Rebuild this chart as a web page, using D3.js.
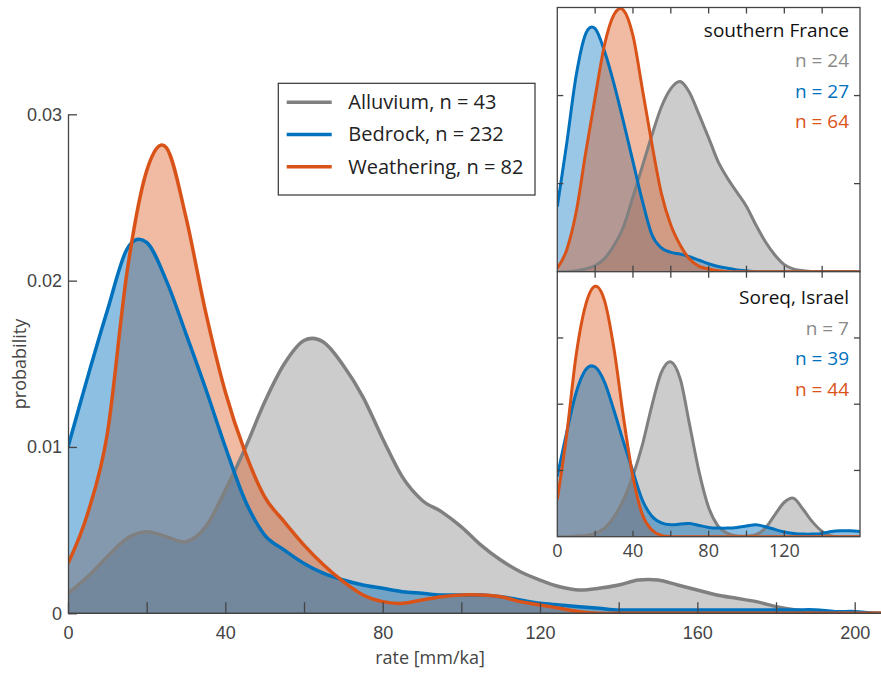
<!DOCTYPE html>
<html>
<head>
<meta charset="utf-8">
<script src="https://cdn.jsdelivr.net/npm/d3@7"></script>
<style>
  body { margin: 0; background: #fff; }
  svg { display: block; font-family: 'Open Sans', sans-serif; }
  .tick text { fill: #444; font-size: 18px; }
  .tick line, .axis .domain { stroke: #444; stroke-width: 1.3; }
</style>
</head>
<body>
<div id="chart"></div>
<script>
'use strict';

// Main panel: rate [mm/ka] against probability
var mainRates = [0, 5, 10, 15, 20, 25, 30, 35, 40, 45, 50, 55, 60, 65, 70, 75, 80, 85, 90, 95, 100,
  105, 110, 115, 120, 125, 130, 135, 140, 145, 150, 155, 160, 165, 170, 175, 180, 185, 190, 195, 200, 205, 210];
var alluvium = [0.0012, 0.0022, 0.0034, 0.0045, 0.0049, 0.0046, 0.0043, 0.0052, 0.0074, 0.0099, 0.0127,
  0.0150, 0.0164, 0.0163, 0.0149, 0.0130, 0.0105, 0.0082, 0.0068, 0.0061, 0.0052, 0.0041, 0.0032, 0.0025,
  0.0020, 0.0016, 0.0014, 0.0015, 0.0017, 0.0020, 0.0020, 0.0017, 0.0014, 0.0011, 0.0009, 0.0007, 0.0004,
  0.0002, 0.0001, 0.00003, 0, 0, 0];
var bedrock = [0.0100, 0.0142, 0.0182, 0.0219, 0.0223, 0.0200, 0.0168, 0.0135, 0.0100, 0.0068, 0.0047,
  0.0038, 0.0030, 0.0024, 0.0020, 0.0017, 0.0015, 0.0013, 0.0012, 0.0011, 0.0011, 0.0011, 0.0010, 0.0008,
  0.0006, 0.0005, 0.0004, 0.0003, 0.0002, 0.0002, 0.0002, 0.0002, 0.0002, 0.0002, 0.0002, 0.0002, 0.0002,
  0.0002, 0.0002, 0.0001, 0.0001, 0, 0];
var weathering = [0.0030, 0.0060, 0.0108, 0.0205, 0.0266, 0.0280, 0.0238, 0.0181, 0.0133, 0.0097, 0.0070,
  0.0055, 0.0041, 0.0029, 0.0019, 0.0011, 0.0007, 0.0006, 0.0008, 0.0010, 0.0011, 0.0011, 0.0010, 0.0007,
  0.0005, 0.0003, 0.0001, 0, 0, 0, 0, 0, 0, 0, 0, 0, 0, 0, 0, 0, 0, 0, 0];
var legendLabels = ['Alluvium, n = 43', 'Bedrock, n = 232', 'Weathering, n = 82'];
var mainXTicks = [0, 20, 40, 60, 80, 100, 120, 140, 160, 180, 200];
var mainYTicks = [0, 0.01, 0.02, 0.03];

// Insets
var insetRates = [0, 5, 10, 15, 20, 25, 30, 35, 40, 45, 50, 55, 60, 65, 70, 75, 80, 85, 90, 95, 100,
  105, 110, 115, 120, 125, 130, 135, 140, 145, 150, 155, 160];
var franceAlluvium = [0, 0, 0.0001, 0.0003, 0.0007, 0.0015, 0.0030, 0.0051, 0.0085, 0.0120, 0.0155, 0.0187,
  0.0208, 0.0216, 0.0203, 0.0178, 0.0152, 0.0125, 0.0106, 0.0090, 0.0074, 0.0053, 0.0034, 0.0019, 0.0008,
  0.0003, 0.0001, 0, 0, 0, 0, 0, 0];
var franceBedrock = [0.0074, 0.0146, 0.0223, 0.0270, 0.0276, 0.0250, 0.0213, 0.0170, 0.0125, 0.0080, 0.0042,
  0.0027, 0.0022, 0.0020, 0.0017, 0.0013, 0.0009, 0.0006, 0.0004, 0.0002, 0.0001, 0, 0, 0, 0, 0, 0, 0, 0,
  0, 0, 0, 0];
var franceWeathering = [0.0004, 0.0025, 0.0068, 0.0135, 0.0198, 0.0258, 0.0292, 0.0297, 0.0268, 0.0207,
  0.0145, 0.0089, 0.0053, 0.0030, 0.0014, 0.0006, 0.0003, 0.0001, 0, 0, 0, 0, 0, 0, 0, 0, 0, 0, 0, 0, 0, 0, 0];
var soreqAlluvium = [0, 0, 0.0001, 0.0002, 0.0005, 0.0013, 0.0030, 0.0056, 0.0092, 0.0139, 0.0198, 0.0248,
  0.0264, 0.0238, 0.0168, 0.0097, 0.0044, 0.0016, 0.0005, 0.0001, 0.0001, 0.0003, 0.0013, 0.0033, 0.0052,
  0.0058, 0.0041, 0.0022, 0.0008, 0.0001, 0, 0, 0];
var soreqBedrock = [0.0091, 0.0158, 0.0218, 0.0252, 0.0256, 0.0233, 0.0190, 0.0143, 0.0098, 0.0055, 0.0031,
  0.0021, 0.0018, 0.0019, 0.0020, 0.0017, 0.0014, 0.0013, 0.0013, 0.0014, 0.0016, 0.0018, 0.0015, 0.0011,
  0.0007, 0.0005, 0.0004, 0.0004, 0.0005, 0.0008, 0.0009, 0.0009, 0.0008];
var soreqWeathering = [0.0056, 0.0155, 0.0275, 0.0350, 0.0378, 0.0356, 0.0283, 0.0180, 0.0090, 0.0033,
  0.0010, 0.0002, 0, 0, 0, 0, 0, 0, 0, 0, 0, 0, 0, 0, 0, 0, 0, 0, 0, 0, 0, 0, 0];
var franceLabels = ['southern France', 'n = 24', 'n = 27', 'n = 64'];
var soreqLabels = ['Soreq, Israel', 'n = 7', 'n = 39', 'n = 44'];
var insetXTicks = [20, 40, 60, 80, 100, 120, 140];
var insetXLabels = [0, 40, 80, 120];

var colors = {alluvium: '#808080', bedrock: '#0072bd', weathering: '#d95319'};
var width = 881, height = 674;

var svg = d3.select('#chart')
  .append('svg')
  .attr('width', width)
  .attr('height', height);

var defs = svg.append('defs');

function series(key, values, alpha) {
  return {key: key, values: values, color: colors[key], alpha: alpha};
}

// fills in the given order, then the lines (alluvium, bedrock, weathering)
function drawCurves(g, x, y, rates, fills, lineWidth) {
  var area = d3.area()
    .x(function(d, i) { return x(rates[i]); })
    .y0(y(0))
    .y1(function(d) { return y(d); })
    .curve(d3.curveCardinal.tension(0));
  var line = area.lineY1();

  fills.forEach(function(s) {
    g.append('path')
      .datum(s.values)
      .attr('fill', s.color)
      .attr('fill-opacity', s.alpha)
      .attr('d', area);
  });

  ['alluvium', 'bedrock', 'weathering'].forEach(function(key) {
    var s = fills.filter(function(f) { return f.key === key; })[0];
    g.append('path')
      .datum(s.values)
      .attr('fill', 'none')
      .attr('stroke', s.color)
      .attr('stroke-width', lineWidth)
      .attr('stroke-linejoin', 'round')
      .attr('d', line);
  });
}

// ---------- main panel ----------
var x = d3.scaleLinear().domain([0, 200]).range([68, 854.7]);
var y = d3.scaleLinear().domain([0, 0.03]).range([613.3, 114.3]);

defs.append('clipPath').attr('id', 'clip-main')
  .append('rect')
  .attr('x', x(0)).attr('y', 0)
  .attr('width', width - x(0)).attr('height', y(0));

var main = svg.append('g').attr('clip-path', 'url(#clip-main)');
drawCurves(main, x, y, mainRates, [
  series('alluvium', alluvium, 0.4),
  series('weathering', weathering, 0.4),
  series('bedrock', bedrock, 0.45)
], 3.5);

var xAxis = svg.append('g')
  .attr('class', 'axis')
  .attr('transform', 'translate(0,' + y(0) + ')')
  .call(d3.axisBottom(x)
    .tickValues(mainXTicks)
    .tickSize(-11)
    .tickSizeOuter(0)
    .tickPadding(13)
    .tickFormat(function(d) { return d % 40 === 0 ? d : ''; }));
xAxis.select('.domain').remove();
xAxis.append('line')
  .attr('x1', x(0)).attr('x2', width)
  .attr('stroke', '#444').attr('stroke-width', 1.5);

svg.append('g')
  .attr('class', 'axis')
  .attr('transform', 'translate(' + x(0) + ',0)')
  .call(d3.axisLeft(y)
    .tickValues(mainYTicks)
    .tickSize(-9)
    .tickSizeOuter(0)
    .tickPadding(6)
    .tickFormat(function(d) { return d === 0 ? '0' : d3.format('.2f')(d); }));

svg.append('text')
  .attr('x', 430).attr('y', 664)
  .attr('text-anchor', 'middle')
  .attr('font-size', 18)
  .attr('fill', '#444')
  .text('rate [mm/ka]');

svg.append('text')
  .attr('transform', 'translate(26,364) rotate(-90)')
  .attr('text-anchor', 'middle')
  .attr('font-size', 18)
  .attr('fill', '#444')
  .text('probability');

// legend
var legend = svg.append('g').attr('transform', 'translate(278.3,83.3)');
legend.append('rect')
  .attr('width', 256.7).attr('height', 111.7)
  .attr('fill', '#fff').attr('stroke', '#333').attr('stroke-width', 1.2);
['alluvium', 'bedrock', 'weathering'].forEach(function(key, i) {
  var cy = 19 + i * 32.2;
  legend.append('line')
    .attr('x1', 8.4).attr('x2', 53.4)
    .attr('y1', cy).attr('y2', cy)
    .attr('stroke', colors[key]).attr('stroke-width', 3.5);
  legend.append('text')
    .attr('x', 70).attr('y', cy + 7)
    .attr('font-size', 20)
    .attr('fill', '#222')
    .text(legendLabels[i]);
});

// ---------- insets ----------
function drawInset(opts) {
  var ix = d3.scaleLinear().domain([0, 160]).range([557.3, 860]);
  var iy = d3.scaleLinear().domain([0, opts.yMax]).range([opts.bottom, opts.top]);
  var g = svg.append('g');

  g.append('rect')
    .attr('x', ix(0)).attr('y', iy(opts.yMax))
    .attr('width', ix(160) - ix(0)).attr('height', iy(0) - iy(opts.yMax))
    .attr('fill', '#fff');

  defs.append('clipPath').attr('id', opts.id)
    .append('rect')
    .attr('x', ix(0)).attr('y', iy(opts.yMax))
    .attr('width', ix(160) - ix(0)).attr('height', iy(0) - iy(opts.yMax));

  var plot = g.append('g').attr('clip-path', 'url(#' + opts.id + ')');
  drawCurves(plot, ix, iy, insetRates, opts.fills, 3);

  // ticks on all four sides, pointing inward
  insetXTicks.forEach(function(t) {
    g.append('line').attr('x1', ix(t)).attr('x2', ix(t))
      .attr('y1', iy(0)).attr('y2', iy(0) - 6);
    g.append('line').attr('x1', ix(t)).attr('x2', ix(t))
      .attr('y1', iy(opts.yMax)).attr('y2', iy(opts.yMax) + 6);
  });
  opts.yTicks.forEach(function(t) {
    g.append('line').attr('x1', ix(0)).attr('x2', ix(0) + 6)
      .attr('y1', iy(t)).attr('y2', iy(t));
    g.append('line').attr('x1', ix(160)).attr('x2', ix(160) - 6)
      .attr('y1', iy(t)).attr('y2', iy(t));
  });
  g.selectAll('line').attr('stroke', '#444').attr('stroke-width', 1.3);

  g.append('rect')
    .attr('x', ix(0)).attr('y', iy(opts.yMax))
    .attr('width', ix(160) - ix(0)).attr('height', iy(0) - iy(opts.yMax))
    .attr('fill', 'none').attr('stroke', '#444').attr('stroke-width', 1.3);

  var textColors = ['#111', '#8a8a8a', colors.bedrock, colors.weathering];
  opts.labels.forEach(function(label, i) {
    g.append('text')
      .attr('x', 849).attr('y', opts.textTop + i * opts.textStep)
      .attr('text-anchor', 'end')
      .attr('font-size', 19)
      .attr('fill', textColors[i])
      .text(label);
  });

  if (opts.xLabels) {
    opts.xLabels.forEach(function(t) {
      g.append('text')
        .attr('x', ix(t)).attr('y', iy(0) + 20.6)
        .attr('text-anchor', 'middle')
        .attr('font-size', 18)
        .attr('fill', '#444')
        .text(t);
    });
  }
}

drawInset({
  id: 'clip-france', top: 7.5, bottom: 271.7, yMax: 0.03, yTicks: [0.01, 0.02],
  fills: [
    series('bedrock', franceBedrock, 0.4),
    series('alluvium', franceAlluvium, 0.4),
    series('weathering', franceWeathering, 0.4)
  ],
  labels: franceLabels, textTop: 36.7, textStep: 30.5
});

drawInset({
  id: 'clip-soreq', top: 271.7, bottom: 536.7, yMax: 0.04, yTicks: [0.01, 0.02, 0.03],
  fills: [
    series('alluvium', soreqAlluvium, 0.4),
    series('weathering', soreqWeathering, 0.4),
    series('bedrock', soreqBedrock, 0.45)
  ],
  labels: soreqLabels, textTop: 304, textStep: 30.6,
  xLabels: insetXLabels
});
</script>
</body>
</html>
